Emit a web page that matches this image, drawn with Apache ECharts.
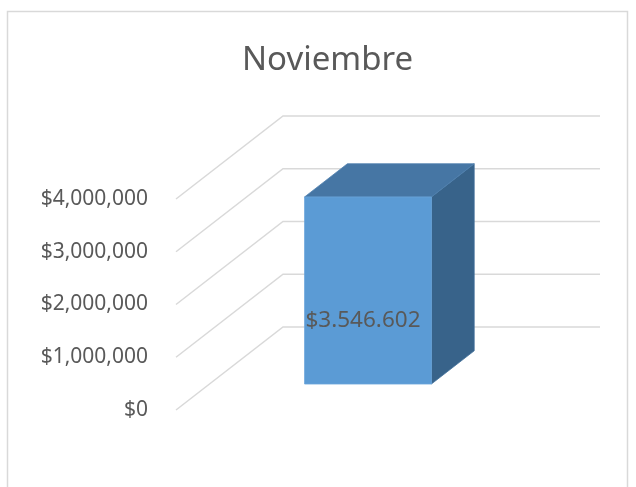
<!DOCTYPE html>
<html>
<head>
<meta charset="utf-8">
<script src="https://cdn.jsdelivr.net/npm/echarts@6/dist/echarts.min.js"></script>
<style>
  html, body { margin: 0; padding: 0; background: #fff; }
  #main { width: 636px; height: 487px; }
</style>
</head>
<body>
<div id="main"></div>
<script>
var categories = ['Noviembre'];
var values = [3546602];
var yTicks = [0, 1000000, 2000000, 3000000, 4000000];

var chartDom = document.getElementById('main');
var myChart = echarts.init(chartDom);
var option;

// depth of the 3D floor (pixels from front plane to back wall)
const DX = 107;
const DY = -83;
const BAR_T0 = 0.313;   // bar front face depth fraction
const BAR_T = 0.40;     // bar depth fraction
const BAR_W = 0.40;     // bar width as fraction of band

function fmtAxis(v) {
    return '$' + v.toLocaleString('en-US');
}
function fmtLabel(v) {
    return '$' + String(v).replace(/\B(?=(\d{3})+(?!\d))/g, '.');
}

option = {
    animation: false,
    backgroundColor: '#ffffff',
    textStyle: { fontFamily: 'Noto Sans' },
    title: {
        text: 'Noviembre',
        left: 242,
        top: 44,
        padding: 0,
        textStyle: {
            fontFamily: 'Noto Sans',
            fontWeight: 'normal',
            fontSize: 33,
            color: '#595959'
        }
    },
    graphic: [
        {
            type: 'rect',
            shape: { x: 7.5, y: 11.5, width: 620, height: 500 },
            style: { fill: 'none', stroke: '#d9d9d9', lineWidth: 1.5 },
            silent: true,
            z: -10
        }
    ],
    grid: {
        left: 176,
        right: 143,
        top: 199,
        bottom: 77
    },
    xAxis: {
        type: 'category',
        data: categories,
        axisLine: { show: false },
        axisTick: { show: false },
        axisLabel: { show: false },
        splitLine: { show: false }
    },
    yAxis: {
        type: 'value',
        min: 0,
        max: 4000000,
        interval: 1000000,
        axisLine: { show: false },
        axisTick: { show: false },
        splitLine: { show: false },
        axisLabel: {
            margin: 28,
            padding: [4, 0, 0, 0],
            fontFamily: 'Noto Sans',
            fontSize: 21,
            color: '#595959',
            formatter: fmtAxis
        }
    },
    series: [
        {
            name: 'grid',
            type: 'custom',
            silent: true,
            z: 1,
            data: yTicks.map(function (v) { return [0, v]; }),
            renderItem: function (params, api) {
                var cs = params.coordSys;
                var y = api.coord([0, api.value(1)])[1];
                var x0 = cs.x;
                return {
                    type: 'polyline',
                    shape: {
                        points: [
                            [x0, y],
                            [x0 + DX, y + DY],
                            [x0 + cs.width + DX, y + DY]
                        ]
                    },
                    style: { fill: null, stroke: '#d9d9d9', lineWidth: 1.5 }
                };
            }
        },
        {
            name: 'Noviembre',
            type: 'custom',
            z: 5,
            data: values.map(function (v, i) { return [i, v]; }),
            renderItem: function (params, api) {
                var top = api.coord([api.value(0), api.value(1)]);
                var base = api.coord([api.value(0), 0]);
                var band = api.size([1, 0])[0];
                var w = band * BAR_W;
                var ox = DX * BAR_T0, oy = DY * BAR_T0;
                var dx = DX * BAR_T, dy = DY * BAR_T;
                var xl = top[0] - w / 2 + ox;
                var xr = top[0] + w / 2 + ox;
                var yt = top[1] + oy;
                var yb = base[1] + oy;
                var v = api.value(1);
                return {
                    type: 'group',
                    children: [
                        {
                            type: 'polygon',
                            shape: { points: [[xr, yt], [xr + dx, yt + dy], [xr + dx, yb + dy], [xr, yb]] },
                            style: { fill: '#38638a', stroke: '#3f6e99', lineWidth: 0.8 }
                        },
                        {
                            type: 'polygon',
                            shape: { points: [[xl, yt], [xl + dx, yt + dy], [xr + dx, yt + dy], [xr, yt]] },
                            style: { fill: '#4676a4', stroke: '#4f80ae', lineWidth: 0.8 }
                        },
                        {
                            type: 'rect',
                            shape: { x: xl, y: yt, width: xr - xl, height: yb - yt },
                            style: { fill: '#5b9bd5', stroke: '#6aa5da', lineWidth: 0.8 }
                        },
                        {
                            type: 'text',
                            x: (xl + xr) / 2 - 5,
                            y: yb - (yb - yt) * 0.34,
                            style: {
                                text: fmtLabel(v),
                                fontFamily: 'Noto Sans',
                                fontSize: 22.5,
                                fill: '#595959',
                                align: 'center',
                                verticalAlign: 'middle'
                            }
                        }
                    ]
                };
            }
        }
    ]
};

option && myChart.setOption(option);
</script>
</body>
</html>
